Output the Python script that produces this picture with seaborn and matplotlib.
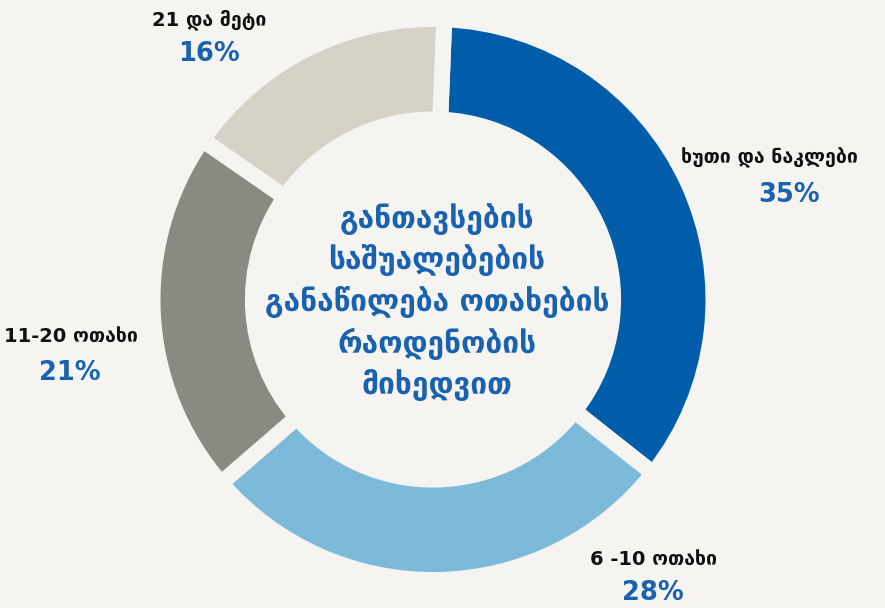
import matplotlib
matplotlib.use("Agg")
import matplotlib.pyplot as plt
import seaborn as sns

# მონაცემები
kategoriebi = ['ხუთი და ნაკლები', '6 -10 ოთახი', '11-20 ოთახი', '21 და მეტი']
procentebi = [35, 28, 21, 16]
feri = ['#005DAA', '#7DBAD9', '#8A8A80', '#D5D3C7']
satauri = 'განთავსების\nსაშუალებების\nგანაწილება ოთახების\nრაოდენობის\nმიხედვით'

fon = '#F5F4F1'
lurji = '#1A62AF'

sns.set_style('white')
plt.rcParams['font.family'] = ['DejaVu Sans']

fig = plt.figure(figsize=(8.85, 6.08), dpi=100, facecolor=fon)
ax = fig.add_axes([0, 0, 1, 1])
ax.set_facecolor(fon)

wedges, _ = ax.pie(procentebi, colors=sns.color_palette(feri), startangle=87.7, counterclock=False,
                   radius=1, wedgeprops=dict(width=0.358, edgecolor=fon, linewidth=11.5))

# ღერძების საზღვრები, რომ წრე სწორ ადგილას მოხვდეს (ცენტრი 433, 299.5 პიქსელზე)
s = 280.5
ax.set_xlim(-433 / s, (885 - 433) / s)
ax.set_ylim(-(608 - 299.5) / s, 299.5 / s)
ax.set_aspect('auto')
ax.axis('off')

fig.text(437 / 885, 1 - 302 / 608, satauri, ha='center', va='center', fontsize=21.5,
         fontweight='bold', color=lurji, linespacing=1.38)

# წარწერების პოზიციები (პიქსელებში): სახელი და პროცენტი
poz_saxeli = [(769, 158), (654, 559), (71, 336), (209, 20)]
poz_proc = [(789, 195), (653, 593), (70, 373), (209, 54)]
for kat, p, (x, y), (px, py) in zip(kategoriebi, procentebi, poz_saxeli, poz_proc):
    fig.text(x / 885, 1 - y / 608, kat, ha='center', va='center', fontsize=14,
             fontweight='bold', color='#111111')
    fig.text(px / 885, 1 - py / 608, f'{p}%', ha='center', va='center', fontsize=18.5,
             fontweight='bold', color=lurji)

fig.savefig('out.png', dpi=100, facecolor=fon)
